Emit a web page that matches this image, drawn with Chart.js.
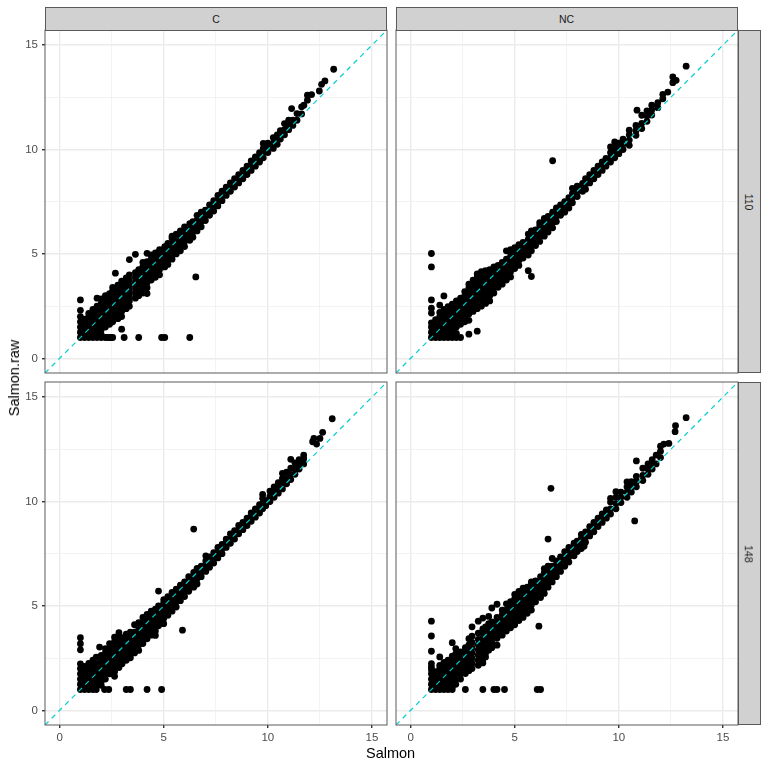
<!DOCTYPE html>
<html>
<head>
<meta charset="utf-8">
<title>Salmon vs Salmon.raw</title>
<script src="https://cdn.jsdelivr.net/npm/chart.js@4"></script>
<style>
    body { margin: 0; background: #fff; width: 768px; height: 768px; overflow: hidden; position: relative;
           font-family: "Liberation Sans", sans-serif; }
    canvas { position: absolute; }
    .strip { position: absolute; box-sizing: border-box; background: #d1d1d1; border: 1px solid #5a5a5a;
             color: #1a1a1a; font-size: 10.5px; display: flex; align-items: center; justify-content: center; }
    .strip.side span { transform: rotate(90deg); }
    .title { position: absolute; color: #000; font-size: 14.5px; white-space: nowrap; }
</style>
</head>
<body>
<script>
// Axis values
const axisRange = [-0.7, 15.72];
const majorTicks = [0, 5, 10, 15];
const minorTicks = [2.5, 7.5, 12.5];
const columnLabels = ['C', 'NC'];
const rowLabels = ['110', '148'];

// Points, one row per Salmon value: [Salmon, Salmon.raw, Salmon.raw, ...]
const c110Columns = [
    [1, 1, 1.25, 1.5, 1.75, 2, 2.3, 2.8], [1.2, 1, 1.13, 1.38, 1.63, 1.88], [1.4, 1, 1.25, 1.5, 1.75, 2, 2.15],
    [1.6, 1, 1.13, 1.38, 1.63, 1.88, 2.13, 2.35], [1.8, 1, 1.25, 1.5, 1.75, 2, 2.25, 2.5, 2.88],
    [2, 1, 1.13, 1.38, 1.63, 1.88, 2.13, 2.38, 2.63, 2.85], [2.2, 1, 1.5, 1.75, 2, 2.25, 2.5, 2.75, 3],
    [2.4, 1, 1.63, 1.88, 2.13, 2.38, 2.63, 2.88, 3.1], [2.55, 1, 1.75, 2, 2.25, 2.5, 2.75, 3, 3.25, 3.4],
    [2.8, 1.9, 2.13, 2.38, 2.63, 2.88, 3.13, 3.38, 3.5], [2.98, 1.4, 2, 2.25, 2.5, 2.75, 3, 3.25, 3.5, 3.7],
    [3.1, 1], [3.2, 2.38, 2.63, 2.88, 3.13, 3.38, 3.63, 3.85], [3.35, 2.5, 2.75, 3, 3.25, 3.5, 3.75, 4, 4.73],
    [3.64, 2.88, 3.13, 3.38, 3.63, 3.88, 4.1, 4.98], [3.8, 1, 3, 3.25, 3.5, 3.75, 4, 4.25],
    [4, 3.13, 3.38, 3.63, 3.88, 4.13, 4.4, 4.6], [4.2, 3.1, 3.38, 3.63, 3.88, 4.13, 4.38, 4.63, 5.03],
    [4.4, 3.75, 4, 4.25, 4.5, 4.75, 4.95], [4.6, 3.88, 4.13, 4.38, 4.63, 4.88, 5.05],
    [4.8, 4, 4.25, 4.5, 4.75, 5, 5.2], [4.9, 1], [5.05, 1, 4.38, 4.63, 4.88, 5.13, 5.35],
    [5.2, 4.5, 4.75, 5, 5.25, 5.5], [5.4, 4.75, 5, 5.25, 5.5, 5.75, 5.85], [5.6, 5, 5.25, 5.5, 5.75, 5.95],
    [5.8, 5.15, 5.4, 5.65, 5.9, 6.1], [6, 5.35, 5.6, 5.85, 6.1, 6.3], [6.25, 1, 5.65, 5.9, 6.15, 6.45],
    [6.4, 5.8, 6.05, 6.3, 6.55], [6.54, 3.9], [6.6, 6.1, 6.35, 6.6, 6.85], [6.8, 6.3, 6.55, 6.8, 7],
    [7, 6.6, 6.85, 7.1], [7.2, 6.85, 7.1, 7.35], [7.4, 7.05, 7.3, 7.55], [7.6, 7.3, 7.55, 7.8],
    [7.8, 7.55, 7.8, 8], [8, 7.8, 8, 8.2], [8.2, 8, 8.2, 8.4], [8.4, 8.2, 8.4, 8.6], [8.6, 8.4, 8.6, 8.8],
    [8.8, 8.6, 8.8, 9], [9, 8.8, 9, 9.2], [9.2, 9, 9.2, 9.45], [9.4, 9.2, 9.4, 9.65], [9.6, 9.4, 9.6, 9.85],
    [9.78, 9.6, 9.85, 10.05, 10.29], [10, 9.85, 10.1, 10.3], [10.26, 10.05, 10.3, 10.57], [10.45, 10.25, 10.5, 10.7],
    [10.6, 10.5, 10.75, 10.9], [10.8, 10.7, 10.95, 11.24], [11, 10.95, 11.2, 11.4], [11.14, 11.96],
    [11.2, 11.15, 11.4], [11.4, 11.4, 11.72], [11.62, 11.7, 12.04], [11.73, 12.12], [11.9, 12.36, 12.6],
    [12.1, 12.63], [12.47, 12.8], [12.58, 13.12], [12.74, 13.28], [13.16, 13.84],
    [2.3, 1], [2.45, 1], [2.68, 4.08]
];
const nc110Columns = [
    [1, 1, 1.25, 1.5, 1.7, 2.17, 2.4, 2.8, 4.38, 5.02], [1.2, 1, 1.13, 1.38, 1.63, 1.85],
    [1.4, 1, 1.25, 1.5, 1.75, 2, 2.2, 2.55], [1.6, 1, 1.13, 1.38, 1.63, 1.88, 2.13, 2.35, 2.99],
    [1.8, 1, 1.25, 1.5, 1.75, 2, 2.25, 2.48], [2, 1, 1.13, 1.38, 1.63, 1.88, 2.13, 2.38, 2.6],
    [2.2, 1, 1.2, 1.5, 1.75, 2, 2.25, 2.5, 2.75], [2.4, 1, 1.63, 1.88, 2.13, 2.38, 2.63, 2.88],
    [2.6, 1.75, 2, 2.25, 2.5, 2.75, 3, 3.2], [2.8, 1.16, 1.82, 2.13, 2.38, 2.63, 2.88, 3.13, 3.38, 3.55],
    [3, 2.25, 2.5, 2.75, 3, 3.25, 3.5, 3.75], [3.2, 1.3, 2.38, 2.63, 2.88, 3.13, 3.38, 3.63, 3.88, 4.04],
    [3.4, 2.5, 2.75, 3, 3.25, 3.5, 3.75, 4, 4.15], [3.6, 2.63, 2.88, 3.13, 3.38, 3.63, 3.88, 4.2],
    [3.8, 2.75, 3, 3.25, 3.5, 3.75, 4, 4.25], [4, 3.13, 3.38, 3.63, 3.88, 4.13, 4.38],
    [4.2, 3.4, 3.65, 3.9, 4.15, 4.45], [4.4, 3.55, 3.8, 4.05, 4.3, 4.6], [4.6, 3.75, 4, 4.25, 4.5, 4.75, 5.15],
    [4.8, 3.9, 4.15, 4.4, 4.65, 4.9, 5.2], [5, 4.3, 4.55, 4.8, 5.05, 5.3], [5.2, 4.45, 4.7, 4.95, 5.2, 5.45],
    [5.4, 4.8, 5.05, 5.3, 5.55], [5.65, 4.2, 4.95, 5.2, 5.45, 5.7, 5.95], [5.8, 3.92, 5.15, 5.4, 5.65, 5.9, 6.1],
    [6, 5.4, 5.65, 5.9, 6.15], [6.2, 5.6, 5.85, 6.1, 6.35, 6.5], [6.42, 5.85, 6.1, 6.35, 6.6, 6.7],
    [6.6, 6.05, 6.3, 6.55, 6.8], [6.82, 6.25, 6.5, 6.75, 7, 9.46], [7, 6.55, 6.8, 7.05, 7.2],
    [7.2, 6.85, 7.1, 7.35], [7.4, 7, 7.25, 7.5], [7.6, 7.2, 7.45, 7.7], [7.77, 7.45, 7.7, 7.9, 8.14],
    [8, 7.75, 8, 8.25], [8.26, 8, 8.2, 8.38], [8.4, 8.1, 8.35, 8.6], [8.6, 8.4, 8.6, 8.8], [8.8, 8.6, 8.8, 9],
    [9, 8.8, 9, 9.2], [9.2, 9, 9.2, 9.4], [9.38, 9.2, 9.4, 9.57], [9.6, 9.4, 9.6, 9.85, 10.12],
    [9.8, 9.6, 9.85, 10.1, 10.36], [10, 9.8, 10.05, 10.3], [10.2, 10, 10.25, 10.5], [10.5, 10.2, 10.45, 10.7, 10.92],
    [10.82, 10.68, 10.9, 11.15], [10.87, 11.88], [11.1, 11, 11.25, 11.64], [11.35, 11.35, 11.6, 11.85],
    [11.58, 11.65, 11.9, 12.12], [11.87, 12, 12.24], [12.11, 12.43, 12.64], [12.35, 12.75], [12.59, 13.2, 13.47],
    [12.75, 13.31], [13.23, 13.99]
];
const c148Columns = [
    [1, 1, 1.25, 1.5, 1.75, 2, 2.23, 2.9, 3.19, 3.48], [1.2, 1, 1.13, 1.38, 1.63, 1.88, 2.1], [1.4, 1, 1.25, 1.5, 1.75, 2, 2.25],
    [1.6, 1, 1.13, 1.38, 1.63, 1.88, 2.13, 2.4], [1.76, 1, 1.28, 1.5, 1.75, 2, 2.25, 2.55],
    [1.92, 3.03], [2, 1.2, 1.38, 1.63, 1.88, 2.13, 2.38, 2.63], [2.16, 1], [2.2, 1.5, 1.75, 2, 2.25, 2.5, 2.75, 2.95],
    [2.36, 1], [2.4, 1.75, 2, 2.25, 2.5, 2.75, 3, 3.2], [2.64, 1.63, 1.85, 2.1, 2.35, 2.6, 2.85, 3.1, 3.3, 3.5],
    [2.85, 2.05, 2.3, 2.55, 2.8, 3.05, 3.3, 3.5, 3.72], [3, 2.23, 2.48, 2.73, 2.98, 3.23, 3.48],
    [3.2, 1, 2.4, 2.65, 2.9, 3.15, 3.4, 3.65], [3.4, 1, 2.52, 2.75, 3, 3.25, 3.5, 3.75],
    [3.6, 2.75, 3, 3.25, 3.5, 3.75, 4.1], [3.8, 2.87, 3.13, 3.38, 3.63, 3.88, 4.2], [4, 3.2, 3.45, 3.7, 3.95, 4.2, 4.45],
    [4.2, 1, 3.43, 3.68, 3.93, 4.18, 4.43, 4.6], [4.4, 3.6, 3.85, 4.1, 4.35, 4.6, 4.75], [4.6, 3.59, 3.8, 4.05, 4.3, 4.55, 4.85],
    [4.75, 4.05, 4.3, 4.55, 4.8, 5, 5.71], [4.9, 1], [5, 4.15, 4.4, 4.65, 4.9, 5.15, 5.3], [5.2, 4.55, 4.8, 5.05, 5.3, 5.45],
    [5.4, 4.75, 5, 5.25, 5.5, 5.65], [5.6, 4.95, 5.2, 5.45, 5.7, 5.8], [5.8, 5.25, 5.5, 5.75, 6], [5.9, 3.84],
    [6, 5.45, 5.7, 5.95, 6.15], [6.2, 5.7, 5.95, 6.2, 6.4], [6.44, 5.9, 6.15, 6.4, 6.6, 8.68], [6.6, 6.05, 6.3, 6.55, 6.8],
    [6.8, 6.4, 6.65, 6.9], [7.02, 6.65, 6.9, 7.15, 7.4], [7.2, 6.85, 7.1, 7.35], [7.4, 7.05, 7.3, 7.55], [7.6, 7.3, 7.55, 7.8],
    [7.8, 7.5, 7.75, 7.95], [8, 7.8, 8, 8.2], [8.2, 8, 8.2, 8.45], [8.4, 8.2, 8.4, 8.6], [8.6, 8.45, 8.65, 8.85],
    [8.8, 8.65, 8.85, 9], [9, 8.85, 9.05, 9.2], [9.2, 9.05, 9.25, 9.45], [9.4, 9.25, 9.45, 9.65], [9.6, 9.45, 9.65, 9.85],
    [9.75, 9.65, 9.9, 10.15, 10.34], [9.9, 9.8, 10.05], [10.1, 10, 10.25, 10.5], [10.3, 10.2, 10.45, 10.7],
    [10.5, 10.4, 10.65, 10.9], [10.7, 10.6, 10.85, 11.1, 11.35], [10.9, 10.85, 11.1, 11.4], [11.1, 11.05, 11.3, 11.6, 12.02],
    [11.3, 11.3, 11.55, 11.85], [11.5, 11.55, 11.8, 12], [11.72, 11.8, 12.05, 12.22], [12.15, 12.86], [12.21, 13.02],
    [12.34, 12.75], [12.5, 13.02], [12.63, 13.31], [13.09, 13.96]
];
const nc148Columns = [
    [1, 1, 1.25, 1.5, 1.75, 1.95, 2.08, 2.24, 2.83, 3.56, 4.27], [1.2, 1, 1.13, 1.38, 1.63, 1.85], [1.4, 1, 1.25, 1.5, 1.75, 2, 2.15, 2.56],
    [1.6, 1, 1.13, 1.38, 1.63, 1.88, 2.13, 2.3], [1.8, 1, 1.25, 1.5, 1.75, 2, 2.25, 2.4],
    [2, 1, 1.13, 1.38, 1.63, 1.88, 2.13, 2.38, 2.6, 3.24], [2.17, 1.25, 1.5, 1.75, 2, 2.25, 2.5, 2.7, 2.96],
    [2.4, 1.5, 1.75, 2, 2.25, 2.5, 2.8], [2.63, 1, 1.76, 2, 2.25, 2.5, 2.75, 3], [2.8, 1.9, 2.13, 2.38, 2.63, 2.88, 3.13, 3.43],
    [2.95, 2, 2.25, 2.5, 2.75, 3, 3.25, 3.55, 4], [3.25, 2.16, 2.4, 2.65, 2.9, 3.15, 3.4, 3.7, 4.27],
    [3.47, 1, 2.27, 2.45, 2.7, 2.95, 3.2, 3.45, 3.7, 3.9, 4.42], [3.6, 2.56, 2.75, 3, 3.25, 3.5, 3.75, 4],
    [3.75, 2.88, 3.13, 3.38, 3.63, 3.88, 4.15, 4.5], [3.9, 3, 3.25, 3.5, 3.75, 4, 4.23, 4.9], [4, 1],
    [4.15, 1, 3.12, 3.45, 3.7, 3.95, 4.2, 4.45, 5.08], [4.4, 3.6, 3.85, 4.1, 4.35, 4.6, 4.8], [4.51, 1],
    [4.6, 3.8, 4.05, 4.3, 4.55, 4.8, 5.1], [4.8, 3.95, 4.2, 4.45, 4.7, 4.95, 5.2], [5, 4.1, 4.35, 4.6, 4.85, 5.1, 5.35, 5.55],
    [5.2, 4.3, 4.55, 4.8, 5.05, 5.3, 5.55, 5.7], [5.4, 4.45, 4.7, 4.95, 5.2, 5.45, 5.7, 5.85], [5.6, 4.65, 4.9, 5.15, 5.4, 5.65, 5.9],
    [5.8, 4.8, 5.05, 5.3, 5.55, 5.8, 6.05, 6.15], [6, 5.2, 5.45, 5.7, 5.95, 6.2], [6.08, 1], [6.16, 4.03],
    [6.24, 1, 5.4, 5.65, 5.9, 6.15, 6.4], [6.42, 5.6, 5.85, 6.1, 6.35, 6.6, 6.79], [6.6, 5.9, 6.15, 6.4, 6.65, 6.9, 8.2],
    [6.74, 10.63], [6.8, 6.15, 6.4, 6.65, 6.9, 7.27], [7, 6.4, 6.65, 6.9, 7.15], [7.2, 6.65, 6.9, 7.15, 7.35], [7.4, 6.9, 7.15, 7.4, 7.6],
    [7.6, 7.1, 7.35, 7.6, 7.8], [7.85, 7.4, 7.65, 7.9, 8], [8, 7.6, 7.85, 8.1], [8.2, 7.75, 8, 8.25, 8.42], [8.33, 7.86],
    [8.4, 8.05, 8.3, 8.55], [8.6, 8.35, 8.6, 8.8], [8.8, 8.55, 8.8, 9], [9, 8.8, 9, 9.2], [9.2, 9, 9.2, 9.4], [9.4, 9.2, 9.4, 9.6],
    [9.6, 9.4, 9.65, 9.97, 10.15], [9.86, 9.65, 9.9, 10.2, 10.47], [10.1, 9.95, 10.2, 10.45], [10.39, 10.2, 10.45, 10.7, 10.94],
    [10.6, 10.45, 10.7, 10.95], [10.76, 9.07], [10.84, 10.7, 10.95, 11.2, 11.94], [11.15, 11, 11.25, 11.59], [11.4, 11.3, 11.55, 11.8],
    [11.6, 11.55, 11.8, 12], [11.79, 11.8, 12.22], [12, 12.1, 12.4, 12.65], [12.16, 12.75], [12.4, 12.78], [12.7, 13.34],
    [12.72, 13.63], [13.23, 14.01]
];

// Panel edges in page pixels
const colEdges = [[45, 387], [395.5, 737.5]];
const rowEdges = [[30, 373], [382, 725]];
const yAxisWidth = 45;
const xAxisHeight = 28;

// Turn the [x, y, y, ...] rows into scatter points
function toPoints(columns) {
    const points = [];
    columns.forEach(function (col) {
        col.slice(1).forEach(function (y) {
            points.push({ x: col[0], y: y });
        });
    });
    return points;
}

// Stroke the dark box around the plot area
const panelBorder = {
    id: 'panelBorder',
    afterDraw(chart) {
        const a = chart.chartArea;
        const ctx = chart.ctx;
        ctx.save();
        ctx.strokeStyle = '#5a5a5a';
        ctx.lineWidth = 1;
        ctx.strokeRect(a.left, a.top, a.right - a.left, a.bottom - a.top);
        ctx.restore();
    }
};

function axisOptions(showLabels, fitSize, isX) {
    return {
        type: 'linear',
        min: axisRange[0],
        max: axisRange[1],
        afterBuildTicks(scale) {
            scale.ticks = majorTicks.concat(minorTicks).sort((a, b) => a - b).map(v => ({ value: v }));
        },
        afterFit(scale) {
            if (isX) scale.height = fitSize; else scale.width = fitSize;
            // tick labels must not push the plot area in, the panels have fixed edges
            scale.paddingLeft = scale.paddingRight = scale.paddingTop = scale.paddingBottom = 0;
        },
        border: { display: false },
        grid: {
            drawTicks: showLabels,
            tickLength: 3,
            tickColor: ctx => majorTicks.includes(ctx.tick.value) ? '#333333' : 'rgba(0,0,0,0)',
            color: ctx => majorTicks.includes(ctx.tick.value) ? '#ebebeb' : '#f0f0f0',
            lineWidth: ctx => majorTicks.includes(ctx.tick.value) ? 1.4 : 0.8
        },
        ticks: {
            display: showLabels,
            autoSkip: false,
            maxRotation: 0,
            padding: isX ? 3 : 4,
            color: '#4d4d4d',
            font: { family: '"Liberation Sans"', size: 11.5 },
            callback: v => majorTicks.includes(v) ? String(v) : ''
        }
    };
}

function drawPanel(col, row, columns) {
    const showY = col === 0;
    const showX = row === 1;
    const leftSpace = showY ? yAxisWidth : 0;
    const bottomSpace = showX ? xAxisHeight : 0;
    const pad = 1;

    const canvas = document.createElement('canvas');
    const w = colEdges[col][1] - colEdges[col][0] + leftSpace + pad * 2;
    const h = rowEdges[row][1] - rowEdges[row][0] + bottomSpace + pad * 2;
    canvas.style.left = (colEdges[col][0] - leftSpace - pad) + 'px';
    canvas.style.top = (rowEdges[row][0] - pad) + 'px';
    canvas.style.width = w + 'px';
    canvas.style.height = h + 'px';
    canvas.width = w;
    canvas.height = h;
    document.body.appendChild(canvas);

    new Chart(canvas.getContext('2d'), {
        type: 'scatter',
        data: {
            datasets: [
                {
                    label: 'abline',
                    data: [{ x: axisRange[0], y: axisRange[0] }, { x: axisRange[1], y: axisRange[1] }],
                    showLine: true,
                    pointRadius: 0,
                    borderColor: '#00cdcd',
                    borderWidth: 1.2,
                    borderDash: [5, 4.5],
                    order: 0
                },
                {
                    label: 'Salmon.raw',
                    data: toPoints(columns),
                    pointRadius: 3.4,
                    pointBackgroundColor: '#000000',
                    pointBorderWidth: 0,
                    order: 1
                }
            ]
        },
        options: {
            responsive: false,
            animation: false,
            devicePixelRatio: 1,
            layout: { padding: pad, autoPadding: false },
            plugins: { legend: { display: false }, tooltip: { enabled: false } },
            scales: {
                x: axisOptions(showX, bottomSpace, true),
                y: axisOptions(showY, leftSpace, false)
            }
        },
        plugins: [panelBorder]
    });
}

// Strip labels and axis titles are plain page text
function addText(className, text, left, top, width, height) {
    const el = document.createElement('div');
    el.className = className;
    el.style.left = left + 'px';
    el.style.top = top + 'px';
    if (width) el.style.width = width + 'px';
    if (height) el.style.height = height + 'px';
    el.innerHTML = '<span>' + text + '</span>';
    document.body.appendChild(el);
    return el;
}

document.addEventListener('DOMContentLoaded', function () {
    drawPanel(0, 0, c110Columns);
    drawPanel(1, 0, nc110Columns);
    drawPanel(0, 1, c148Columns);
    drawPanel(1, 1, nc148Columns);

    columnLabels.forEach(function (label, i) {
        const e = colEdges[i];
        addText('strip', label, e[0], 7, e[1] - e[0], 23.5);
    });
    rowLabels.forEach(function (label, i) {
        const e = rowEdges[i];
        addText('strip side', label, 737.5, e[0], 23.5, e[1] - e[0]);
    });

    addText('title', 'Salmon', 366, 745);
    const yTitle = addText('title', 'Salmon.raw', 14, 378);
    yTitle.style.transform = 'translate(-50%, -50%) rotate(-90deg)';
});
</script>
</body>
</html>
